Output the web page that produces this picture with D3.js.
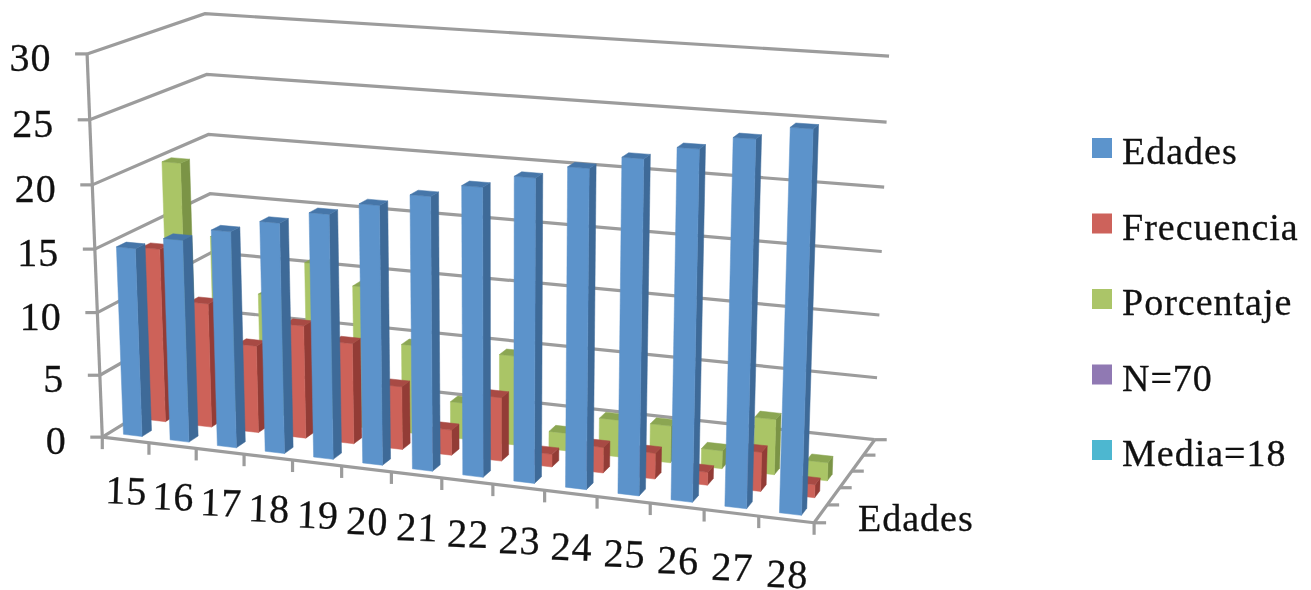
<!DOCTYPE html>
<html><head><meta charset="utf-8">
<script src="https://cdn.jsdelivr.net/npm/d3@7"></script>
<style>html,body{margin:0;padding:0;background:#fff}svg{display:block;filter:blur(0.45px)}
text{font-family:"Liberation Serif",serif;fill:#111;stroke:#111;stroke-width:0.3px;font-size:38px;letter-spacing:1px}
text.num{font-size:40px;letter-spacing:1px}</style>
</head><body><svg id="c" width="1311" height="590"></svg>
<script>
const categories=[15,16,17,18,19,20,21,22,23,24,25,26,27,28];
const seriesNames=["Edades","Frecuencia","Porcentaje","N=70","Media=18"];
const edades=[15,16,17,18,19,20,21,22,23,24,25,26,27,28];
const frecuencia=[14,10,7,9,8,5,2,5,1,2,2,1,3,1];
const porcentaje=[20,14.3,10,12.9,11.4,7.1,2.9,7.1,1.4,2.9,2.9,1.4,4.3,1.4];
const n70=[];
const media18=[];
const seriesValues=[edades,frecuencia,porcentaje,n70,media18];
const faceColors=[
 {front:"#5c93cb",side:"#3e6a98",top:"#4676a9"},
 {front:"#cd6259",side:"#933c36",top:"#a84a44"},
 {front:"#aac566",side:"#7b9446",top:"#8ba652"},
 {front:"#9079b3",side:"#66528a",top:"#7a639c"},
 {front:"#4db7d0",side:"#328399",top:"#3c9ab2"}];
const legendColors=["#5c94cc","#cd625b","#abc568","#9079b3","#4db7d0"];

// world axes: x along categories, y value, z depth through series
const X=d3.scaleBand().domain(categories).range([0,14]).paddingInner(0.6).paddingOuter(0.3);
const Z=d3.scaleBand().domain(seriesNames).range([0,5]).paddingInner(0.6).paddingOuter(0.3);
const Y=d3.scaleLinear().domain([0,30]).range([0,30]);

// camera fitted to the corners of the plot box
const anchors=[[0,0,0,102,435],[14,0,0,814,523],[14,0,5,874,438],[0,0,5,216,372],
 [0,30,0,87,54],[0,30,5,205,14],[14,30,5,890,56],[0,15,0,95.5,249],[14,15,5,881,250],[0,15,5,209.5,192],
 [13.3,28,0.3,790,128],[13.7,28,0.3,813,130],[13.7,0,0.3,802,516],[13.3,0,0.3,780,514],
 [0.3,15,0.3,116,247],[0.3,0,0.3,123,433]];
function fit(pts){
 const rows=[],rhs=[];
 pts.forEach(([x,y,z,u,v])=>{
  rows.push([x,y,z,1,0,0,0,0,-u*x,-u*y,-u*z]);rhs.push(u);
  rows.push([0,0,0,0,x,y,z,1,-v*x,-v*y,-v*z]);rhs.push(v);
 });
 const n=11,A=d3.range(n).map(i=>d3.range(n+1).map(j=>
   d3.sum(rows,(r,k)=>r[i]*(j<n?r[j]:rhs[k]))));
 for(let i=0;i<n;i++){
  let p=i;for(let k=i+1;k<n;k++)if(Math.abs(A[k][i])>Math.abs(A[p][i]))p=k;
  [A[i],A[p]]=[A[p],A[i]];
  for(let k=0;k<n;k++)if(k!==i){const f=A[k][i]/A[i][i];for(let j=i;j<=n;j++)A[k][j]-=f*A[i][j];}
 }
 return d3.range(n).map(i=>A[i][n]/A[i][i]);
}
const m=fit(anchors);
const proj=(x,y,z)=>{const w=m[8]*x+m[9]*y+m[10]*z+1;
 return [(m[0]*x+m[1]*y+m[2]*z+m[3])/w,(m[4]*x+m[5]*y+m[6]*z+m[7])/w];};

const svg=d3.select("#c");
const gridColor="#9c9c9c",gw=3.2;
const line=(g,a,b)=>g.append("line").attr("x1",a[0]).attr("y1",a[1]).attr("x2",b[0]).attr("y2",b[1])
  .attr("stroke",gridColor).attr("stroke-width",gw);

const g=svg.append("g");
// walls
Y.ticks(6).forEach(t=>{
 g.append("polyline").attr("fill","none").attr("stroke",gridColor).attr("stroke-width",gw)
  .attr("points",[proj(0,Y(t),0),proj(0,Y(t),5),proj(14,Y(t),5)].map(p=>p.join(",")).join(" "));
 const a=proj(0,Y(t),0);
 line(g,a,[a[0]-12,a[1]]);
 g.append("text").attr("class","num").attr("x",a[0]-35.5).attr("y",a[1]+17).attr("text-anchor","end").text(t);
});
line(g,proj(0,0,0),proj(0,30,0));
// floor
line(g,proj(0,0,0),proj(14,0,0));
line(g,proj(14,0,0),proj(14,0,5));
d3.range(0,15).forEach(i=>{const a=proj(i,0,0);line(g,a,[a[0],a[1]+12]);});
d3.range(0,6).forEach(k=>{const a=proj(14,0,k);line(g,a,[a[0]+12,a[1]]);});
// category labels
categories.forEach((c,i)=>{
 const a=proj(X(c)+X.bandwidth()/2,0,0),by=a[1]+64+4*i/13;
 g.append("text").attr("class","num").attr("x",a[0]+1).attr("y",by).attr("text-anchor","middle")
  .attr("transform",`rotate(2 ${a[0]} ${by-12})`).text(c);
});
g.append("text").attr("x",858).attr("y",531).text("Edades");

// bars: back series first
const poly=(sel,pts,col)=>sel.append("polygon").attr("points",pts.map(p=>p.join(",")).join(" "))
  .attr("fill",col).attr("stroke",col).attr("stroke-width",0.5);
seriesNames.map((s,i)=>i).reverse().forEach(si=>{
 const vals=seriesValues[si],col=faceColors[si];
 const z0=Z(seriesNames[si]),z1=z0+Z.bandwidth();
 const bg=svg.append("g").attr("class","series");
 vals.forEach((v,ci)=>{
  const c=categories[ci],x0=X(c),x1=x0+X.bandwidth(),h=Y(v);
  poly(bg,[proj(x1,0,z0),proj(x1,0,z1),proj(x1,h,z1),proj(x1,h,z0)],col.side);
  poly(bg,[proj(x0,0,z0),proj(x1,0,z0),proj(x1,h,z0),proj(x0,h,z0)],col.front);
  poly(bg,[proj(x0,h,z0),proj(x1,h,z0),proj(x1,h,z1),proj(x0,h,z1)],col.top);
 });
});

// legend
const legendY=d3.scalePoint().domain(seriesNames).range([148,450]);
seriesNames.forEach((s,i)=>{
 svg.append("rect").attr("x",1092).attr("y",legendY(s)-10).attr("width",20).attr("height",20).attr("fill",legendColors[i]);
 svg.append("text").attr("x",1122).attr("y",legendY(s)+16).text(s);
});
</script></body></html>
